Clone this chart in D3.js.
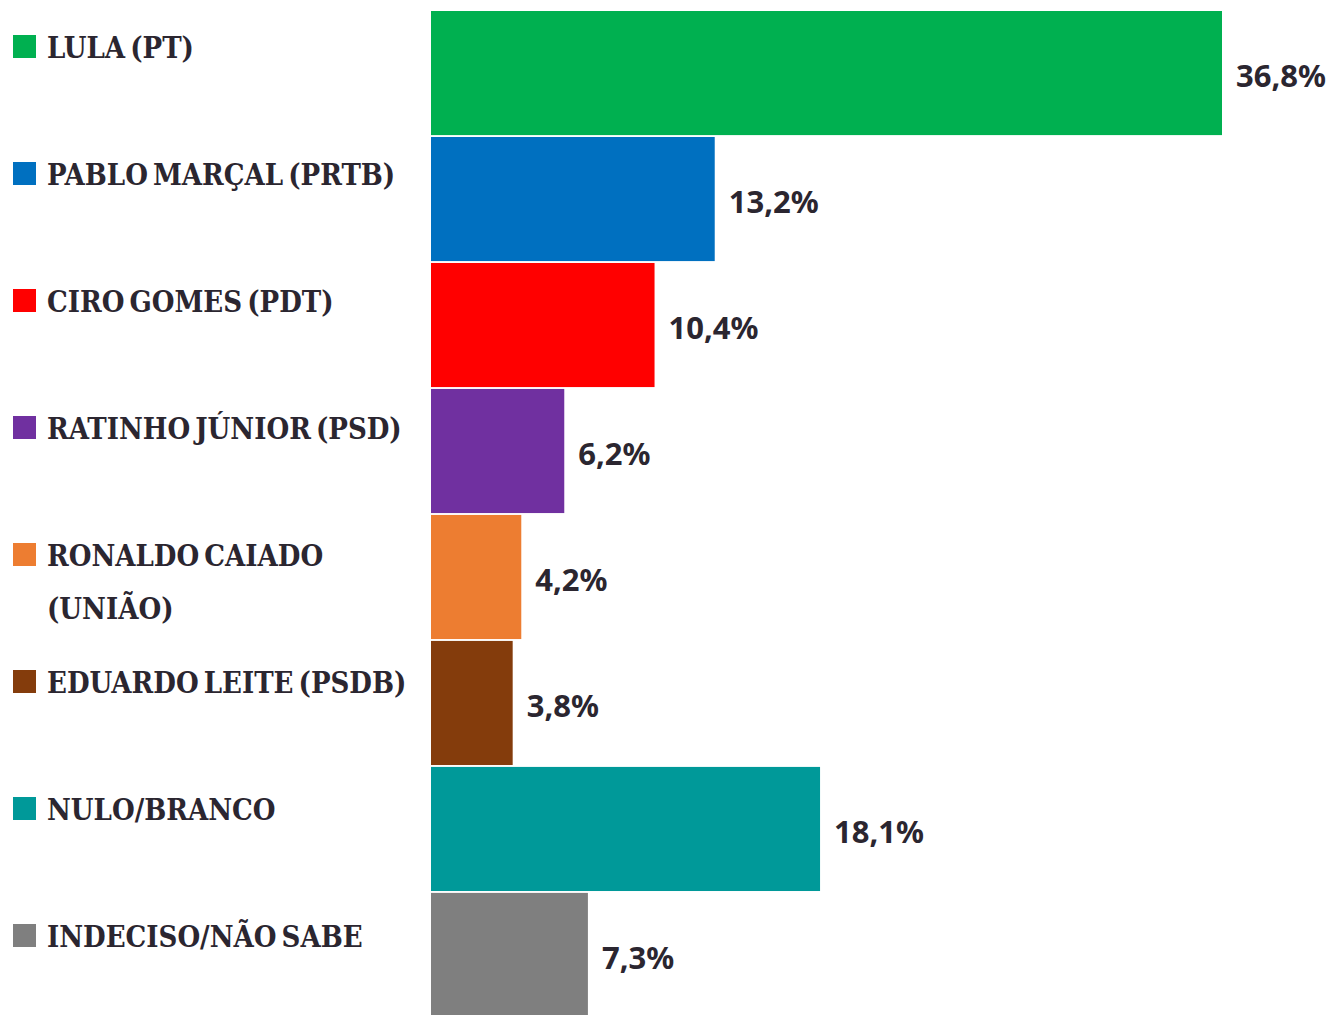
<!DOCTYPE html>
<html>
<head>
<meta charset="utf-8">
<script src="https://cdn.jsdelivr.net/npm/d3@7"></script>
<style>
  body { margin: 0; background: #fff; }
  svg { display: block; }
</style>
</head>
<body>
<svg id="chart"></svg>
<script>
// Poll results: candidate labels, shares and bar colours
const names = [
    ["LULA (PT)"],
    ["PABLO MARÇAL (PRTB)"],
    ["CIRO GOMES (PDT)"],
    ["RATINHO JÚNIOR (PSD)"],
    ["RONALDO CAIADO", "(UNIÃO)"],
    ["EDUARDO LEITE (PSDB)"],
    ["NULO/BRANCO"],
    ["INDECISO/NÃO SABE"]
];
const values = [36.8, 13.2, 10.4, 6.2, 4.2, 3.8, 18.1, 7.3];
const colors = ["#00b050", "#0070c0", "#ff0000", "#7030a0", "#ed7d31", "#843c0c", "#009999", "#7f7f7f"];

const width = 1330;
const height = 1015;
const textColor = "#2b2630";

const svg = d3.select("#chart").attr("width", width).attr("height", height);

const idx = d3.range(values.length);

const x = d3.scaleLinear().domain([0, 36.8]).range([431, 1222]);
const y = d3.scaleBand().domain(idx).range([11, 1017]).paddingInner(0.015);
// labels sit near the top of each row, on a slightly wider step
const yLabel = d3.scaleBand().domain(idx).range([11, 11 + 127 * idx.length]);

// Bars
svg.append("g").selectAll("rect")
    .data(idx)
    .join("rect")
    .attr("x", x(0))
    .attr("y", i => y(i))
    .attr("width", i => x(values[i]) - x(0))
    .attr("height", y.bandwidth())
    .attr("fill", i => colors[i]);

// Value labels
svg.append("g").selectAll("text")
    .data(idx)
    .join("text")
    .attr("x", i => x(values[i]) + 14)
    .attr("y", i => y(i) + y.bandwidth() / 2 + 3)
    .attr("dy", "0.35em")
    .attr("fill", textColor)
    .attr("font-family", "'Noto Sans', 'Open Sans', sans-serif")
    .attr("font-weight", 700)
    .attr("font-size", "31px")
    .text(i => values[i].toFixed(1).replace(".", ",") + "%");

// Legend squares + names
const legend = svg.append("g").selectAll("g")
    .data(idx)
    .join("g")
    .attr("transform", i => `translate(0,${yLabel(i) + 47})`);

legend.append("rect")
    .attr("x", 13)
    .attr("y", -23)
    .attr("width", 23)
    .attr("height", 23)
    .attr("fill", i => colors[i]);

legend.append("text")
    .attr("x", 47)
    .attr("fill", textColor)
    .attr("font-family", "'DejaVu Serif', serif")
    .attr("font-weight", 700)
    .attr("font-size", "29px")
    .style("font-stretch", "condensed")
    .style("word-spacing", "-4px")
    .selectAll("tspan")
    .data(i => names[i])
    .join("tspan")
    .attr("x", 47)
    .attr("dy", (d, k) => k === 0 ? 0 : 53)
    .text(d => d);
</script>
</body>
</html>
